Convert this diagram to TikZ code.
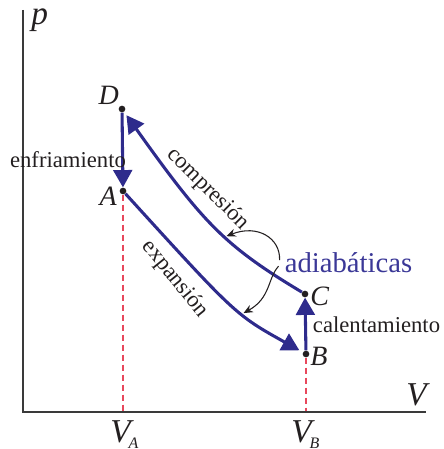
\documentclass[tikz,border=0pt]{standalone}
\usepackage{fontspec}
\setmainfont{Liberation Serif}
\usetikzlibrary{arrows.meta,calc,backgrounds}
\definecolor{cyc}{HTML}{2E2B8C}
\definecolor{adb}{HTML}{3B3897}
\definecolor{guide}{HTML}{E8485C}
\definecolor{ink}{HTML}{231F20}
\definecolor{axis}{HTML}{3A3A3A}
\tikzset{
  dot/.style={circle, fill=ink, inner sep=0pt, minimum size=5pt},
  axisline/.style={draw=axis, line width=1.5pt, line join=miter},
  guideline/.style={draw=guide, line width=1.1pt, dash pattern=on 4.5pt off 3pt},
  cycarr/.style={-{Triangle[length=13pt,width=14pt]}, draw=cyc, line width=2.3pt},
  thinarr/.style={-{Stealth[length=7pt,width=6pt]}, draw=ink, line width=0.8pt},
  txt/.style={font=\fontsize{17}{20}\selectfont, text=ink, inner sep=0pt},
  ptlbl/.style={font=\fontsize{21}{24}\selectfont\itshape, text=ink, inner sep=0pt},
  axlbl/.style={font=\fontsize{25}{28}\selectfont\itshape, text=ink, inner sep=0pt},
}
\begin{document}
\begin{tikzpicture}[x=0.75pt, y=-0.75pt]
  \useasboundingbox (0,0) rectangle (443,449);

  % axes
  \coordinate (O) at (23,412);
  \coordinate (ytop) at (23,10);
  \coordinate (xend) at (426,412);
  \draw[axisline] (ytop) -- (O) -- (xend);
  \node[axlbl, anchor=base west] (plbl) at (31,24.5) {p};
  \node[axlbl, anchor=base west] (Vlbl) at (406,405) {V};

  % states
  \node[dot] (D) at (122,109) {};
  \node[dot] (A) at (123,191) {};
  \node[dot] (C) at (305,294) {};
  \node[dot] (B) at (306,354) {};
  \node[ptlbl, anchor=base east] (lblD) at (119,105) {D};
  \node[ptlbl, anchor=base east] (lblA) at (117,205) {A};
  \node[ptlbl, anchor=base west] (lblC) at (310,305) {C};
  \node[ptlbl, anchor=base west] (lblB) at (310,365) {B};

  % volumes
  \node[axlbl, anchor=base west] (VA) at (110,442) {V\kern-1.5pt\raisebox{-4.5pt}{\fontsize{12}{12}\selectfont A}};
  \node[axlbl, anchor=base west] (VB) at (291,442) {V\kern-1.5pt\raisebox{-4.5pt}{\fontsize{12}{12}\selectfont B}};

  % cycle
  \begin{scope}[on background layer]
    \draw[guideline] (A) -- (A |- O);
    \draw[guideline] (B) -- (B |- O);
    \draw[cycarr, shorten >=3pt] (C) .. controls (225,246) and (204,224) .. (D) coordinate[pos=0.43] (cmp);
    \draw[cycarr] (D) -- (A);
    \draw[cycarr, shorten >=3pt] (A) .. controls (235.5,314.7) and (235.5,314.7) .. (B) coordinate[pos=0.59] (exp);
    \draw[cycarr] (B) -- (C);
  \end{scope}

  \node[txt, anchor=base] (enf) at (68,167) {enfriamiento};
  \node[txt, anchor=base] (cal) at (376.5,332) {calentamiento};
  \node[txt, rotate=-45] (comp) at (208,189) {compresión};
  \node[txt, rotate=-51] (expa) at (175,279) {expansión};

  % adiabatic label
  \node[txt, font=\fontsize{21.5}{24}\selectfont, text=adb, anchor=base] (adiab) at (348.5,272) {adiabáticas};
  \draw[thinarr, shorten >=1.5pt] ($(adiab.west)+(-5,-2)$) .. controls +(1,-22) and +(33,-13) .. (cmp);
  \draw[thinarr, shorten >=1.5pt] ($(adiab.west)+(-6,4)$) .. controls +(-11,12) and +(29,-16) .. (exp);
\end{tikzpicture}
\end{document}
